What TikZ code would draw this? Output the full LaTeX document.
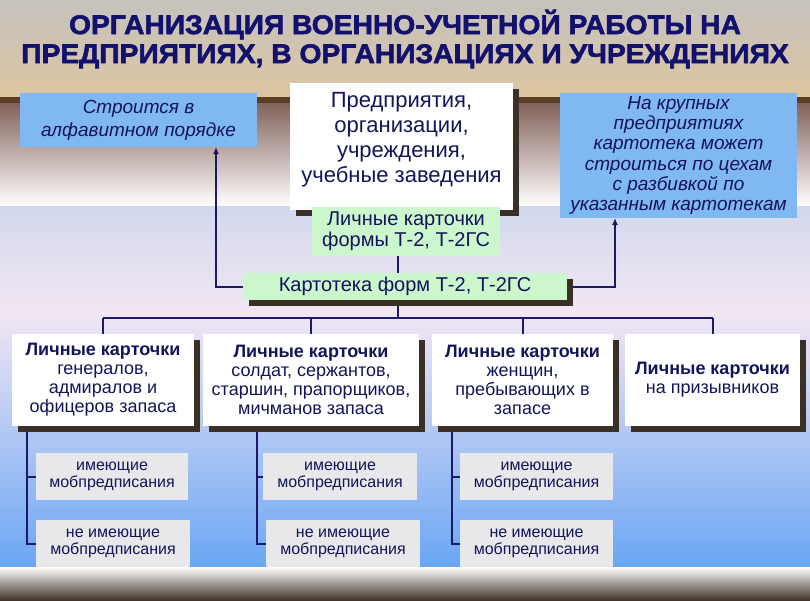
\documentclass[tikz,border=0pt]{standalone}
\usepackage{fontspec}
\setmainfont{Liberation Sans}
\newfontfamily\titlefont[FakeBold=2.2,FakeStretch=1.045]{Liberation Sans}
\usetikzlibrary{shadows,arrows.meta,calc}
\definecolor{navy}{HTML}{14145A}
\definecolor{titlec}{HTML}{12126E}
\definecolor{linec}{HTML}{1A1A66}
\definecolor{boxblue}{HTML}{80B8F2}
\definecolor{boxgreen}{HTML}{CCF6CC}
\definecolor{subgrey}{HTML}{E8E8EA}
\definecolor{shadowc}{HTML}{3B3026}
\definecolor{bgA}{HTML}{C6C2BE}
\definecolor{bgB}{HTML}{DCC6A0}
\definecolor{bgH}{HTML}{5C3E24}
\definecolor{bgC}{HTML}{82625A}
\definecolor{bgD}{HTML}{DED0D0}
\definecolor{bgE}{HTML}{D2D8EC}
\definecolor{bgF}{HTML}{F2E6F3}
\definecolor{bgG}{HTML}{ACCAF5}
\definecolor{bgI}{HTML}{6AA6F4}
\definecolor{bgJ}{HTML}{42342C}
\pgfdeclarelayer{bg}
\pgfdeclarelayer{lines}
\pgfsetlayers{bg,lines,main}
\tikzset{
  txt/.style={text=navy, align=center, inner sep=0pt},
  shadowed/.style={drop shadow={shadow xshift=6pt, shadow yshift=-6pt, fill=shadowc, opacity=1}},
  bluebox/.style={txt, fill=boxblue, font=\itshape\fontsize{19}{20.2}\selectfont},
  whitebox/.style={txt, fill=white, shadowed},
  greenbox/.style={txt, fill=boxgreen, font=\fontsize{20}{21}\selectfont},
  rowbox/.style={txt, fill=white, shadowed, minimum height=92pt, font=\fontsize{18}{19}\selectfont},
  subbox/.style={txt, fill=subgrey, minimum height=47pt, font=\fontsize{16}{17}\selectfont},
  conn/.style={draw=linec, line width=2pt},
  arr/.style={conn, -{Latex[length=7pt,width=6pt]}}
}
\begin{document}
\begin{tikzpicture}[x=1pt,y=-1pt]
\useasboundingbox (0,0) rectangle (810,600);
\begin{pgfonlayer}{bg}
  \shade[top color=bgA, bottom color=bgB] (0,0) rectangle (810,98);
  \fill[bgH] (0,97) rectangle (810,103);
  \shade[top color=bgC, middle color=bgD, bottom color=white] (0,103) rectangle (810,206);
  \shade[top color=bgE, bottom color=bgF] (0,206) rectangle (810,312);
  \shade[top color=bgF, middle color=bgG, bottom color=bgI] (0,312) rectangle (810,567);
  \shade[top color=white, bottom color=bgJ] (0,567) rectangle (810,600);
\end{pgfonlayer}

% title
\node[txt, text=titlec, font=\titlefont\bfseries\fontsize{27}{29}\selectfont] (title) at (405,39)
  {ОРГАНИЗАЦИЯ ВОЕННО-УЧЕТНОЙ РАБОТЫ НА\\ПРЕДПРИЯТИЯХ, В ОРГАНИЗАЦИЯХ И УЧРЕЖДЕНИЯХ};

% top boxes
\node[bluebox, minimum width=237pt, minimum height=54pt, font=\itshape\fontsize{19}{23}\selectfont] (str) at (138.5,120)
  {Строится в\\алфавитном порядке};
\node[whitebox, minimum width=223pt, minimum height=127pt] (ent) at (401.5,146.5) {};
\node[txt, font=\fontsize{22}{25}\selectfont] (entt) at (401.5,140) {Предприятия,\\организации,\\учреждения,\\учебные заведения};
\node[bluebox, minimum width=237pt, minimum height=125pt] (kr) at (678.5,155.5)
  {На крупных\\предприятиях\\картотека может\\строиться по цехам\\с разбивкой по\\указанным картотекам};
\node[greenbox, minimum width=188pt, minimum height=49pt] (lk) at (406,231.5)
  {Личные карточки\\формы Т-2, Т-2ГС};
\node[greenbox, shadowed, minimum width=324pt, minimum height=27pt] (kart) at (405,286.5)
  {Картотека форм Т-2, Т-2ГС};

% row boxes
\node[rowbox, minimum width=182pt] (b1) at (103,380) {\textbf{Личные карточки}\\генералов,\\адмиралов и\\офицеров запаса};
\node[rowbox, minimum width=216pt] (b2) at (311,380) {\textbf{Личные карточки}\\солдат, сержантов,\\старшин, прапорщиков,\\мичманов запаса};
\node[rowbox, minimum width=181pt] (b3) at (522.5,380) {\textbf{Личные карточки}\\женщин,\\пребывающих в\\запасе};
\node[rowbox, minimum width=175pt] (b4) at (712.5,380) {\textbf{Личные карточки}\\на призывников};

% sub boxes
\node[subbox, minimum width=152pt] (s11) at (112,476.5) {имеющие\\мобпредписания};
\node[subbox, minimum width=154pt] (s12) at (113,543.5) {не имеющие\\мобпредписания};
\node[subbox, minimum width=154pt] (s21) at (340,476.5) {имеющие\\мобпредписания};
\node[subbox, minimum width=154pt] (s22) at (343,543.5) {не имеющие\\мобпредписания};
\node[subbox, minimum width=153pt] (s31) at (536.5,476.5) {имеющие\\мобпредписания};
\node[subbox, minimum width=153pt] (s32) at (536.5,543.5) {не имеющие\\мобпредписания};

\coordinate (aL) at (216,147);
\coordinate (aR) at (615,218);
\coordinate (busC) at (398,318);
\coordinate (v1) at (27,426);
\coordinate (v2) at (257,426);
\coordinate (v3) at (452,426);

\begin{pgfonlayer}{lines}
  \draw[conn] (lk.south -| busC) -- (kart.north -| busC);
  \draw[arr] (kart.west) -| (aL);
  \draw[arr] (kart.east) -| (aR);
  \draw[conn] (kart.south -| busC) -- (busC);
  \draw[conn] (b1.north |- busC) -- (b4.north |- busC);
  \foreach \b in {b1,b2,b3,b4} { \draw[conn] (\b.north |- busC) -- (\b.north); }
  \draw[conn] (v1) |- (s12.west);
  \draw[conn] (v1 |- s11.west) -- (s11.west);
  \draw[conn] (v2) |- (s22.west);
  \draw[conn] (v2 |- s21.west) -- (s21.west);
  \draw[conn] (v3) |- (s32.west);
  \draw[conn] (v3 |- s31.west) -- (s31.west);
\end{pgfonlayer}
\end{tikzpicture}
\end{document}
